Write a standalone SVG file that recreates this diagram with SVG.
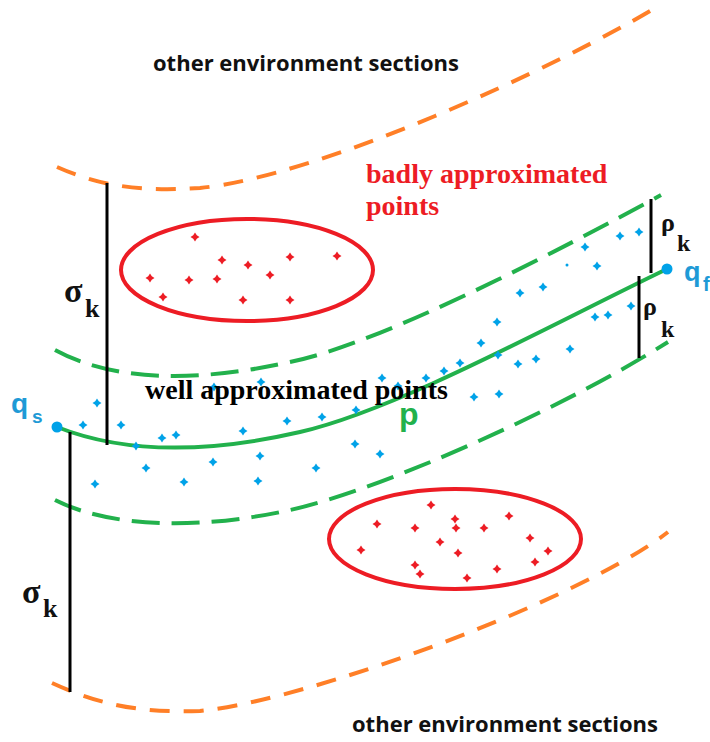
<svg xmlns="http://www.w3.org/2000/svg" width="710" height="742" viewBox="0 0 710 742">
<style>
.orange{fill:none;stroke:#FF7F27;stroke-width:4;stroke-dasharray:20 14}
.gdash{fill:none;stroke:#22B14C;stroke-width:4;stroke-dasharray:28 12}
.gsolid{fill:none;stroke:#22B14C;stroke-width:4}
.bar{stroke:#000;stroke-width:3}
.ell{fill:none;stroke:#ED1C24;stroke-width:4}
.sec{font-family:"Open Sans","Liberation Sans",sans-serif;font-weight:700;font-size:22px;fill:#111}
.ser{font-family:"Liberation Serif","Times New Roman",serif;font-weight:700}
.qlab{font-family:"Liberation Sans",Arial,sans-serif;font-weight:700;fill:#1E9AD6}
</style>
<defs>
<path id="dot" d="M0,-4.5 L1.8,-1.8 L4.5,0 L1.8,1.8 L0,4.5 L-1.8,1.8 L-4.5,0 L-1.8,-1.8Z"/>
</defs>
<rect width="710" height="742" fill="#fff"/>

<g id="boundaries">
<path class="orange" d="M57,167 C100,186 140,192 200,188 C320,176 555,68 655,8"/>
<path class="orange" d="M52,683 C100,705 140,713 200,711 C310,700 580,600 668,532"/>
</g>

<g id="band">
<path class="gdash" d="M55,350 C110,380 190,384 290,362 C380,344 560,250 661,195"/>
<path class="gdash" d="M55,500 C110,528 200,530 290,510 C380,490 560,410 668,342"/>
</g>

<g id="path-p">
<path class="gsolid" d="M57,427 C120,452 200,455 300,432 C400,409 560,320 667,269"/>
</g>

<g id="connectors">
<line class="bar" x1="107" y1="183" x2="107" y2="445"/>
<line class="bar" x1="70" y1="432" x2="70" y2="692"/>
<line class="bar" x1="651" y1="199" x2="651" y2="273"/>
<line class="bar" x1="639" y1="276" x2="639" y2="358"/>
</g>

<g id="bad-top">
<ellipse class="ell" cx="247" cy="270" rx="126" ry="51"/>
<g fill="#ED1C24">
<use href="#dot" x="195" y="237"/><use href="#dot" x="222" y="260"/><use href="#dot" x="248" y="265"/>
<use href="#dot" x="290" y="257"/><use href="#dot" x="337" y="256"/><use href="#dot" x="150" y="278"/>
<use href="#dot" x="189" y="280"/><use href="#dot" x="217" y="279"/><use href="#dot" x="270" y="275"/>
<use href="#dot" x="163" y="297"/><use href="#dot" x="243" y="300"/><use href="#dot" x="290" y="300"/>
</g>
</g>

<g id="bad-bottom">
<ellipse class="ell" cx="455" cy="539" rx="126" ry="50"/>
<g fill="#ED1C24">
<use href="#dot" x="431" y="505"/><use href="#dot" x="455" y="519"/><use href="#dot" x="509" y="516"/>
<use href="#dot" x="377" y="524"/><use href="#dot" x="415" y="528"/><use href="#dot" x="456" y="528"/>
<use href="#dot" x="484" y="528"/><use href="#dot" x="530" y="538"/><use href="#dot" x="440" y="542"/>
<use href="#dot" x="361" y="550"/><use href="#dot" x="458" y="553"/><use href="#dot" x="548" y="551"/>
<use href="#dot" x="535" y="562"/><use href="#dot" x="415" y="565"/><use href="#dot" x="420" y="574"/>
<use href="#dot" x="497" y="569"/><use href="#dot" x="467" y="578"/>
</g>
</g>

<g id="good-points" fill="#00A2E8">
<use href="#dot" x="97" y="403"/><use href="#dot" x="83" y="425"/><use href="#dot" x="121" y="425"/>
<use href="#dot" x="136" y="446"/><use href="#dot" x="162" y="438"/><use href="#dot" x="176" y="435"/>
<use href="#dot" x="214" y="387"/><use href="#dot" x="261" y="382"/><use href="#dot" x="243" y="431"/>
<use href="#dot" x="146" y="468"/><use href="#dot" x="213" y="462"/><use href="#dot" x="260" y="456"/>
<use href="#dot" x="95" y="484"/><use href="#dot" x="184" y="482"/><use href="#dot" x="258" y="481"/>
<use href="#dot" x="287" y="421"/><use href="#dot" x="322" y="417"/><use href="#dot" x="356" y="410"/>
<use href="#dot" x="355" y="444"/><use href="#dot" x="380" y="454"/><use href="#dot" x="316" y="468"/>
<use href="#dot" x="382" y="378"/><use href="#dot" x="398" y="386"/><use href="#dot" x="426" y="378"/>
<use href="#dot" x="444" y="371"/><use href="#dot" x="460" y="363"/><use href="#dot" x="474" y="397"/>
<use href="#dot" x="499" y="394"/><use href="#dot" x="481" y="343"/><use href="#dot" x="498" y="355"/>
<use href="#dot" x="497" y="322"/><use href="#dot" x="518" y="364"/><use href="#dot" x="536" y="359"/>
<use href="#dot" x="570" y="349"/><use href="#dot" x="595" y="317"/><use href="#dot" x="608" y="315"/>
<use href="#dot" x="631" y="306"/><use href="#dot" x="520" y="293"/><use href="#dot" x="543" y="287"/>
<use href="#dot" x="597" y="266"/><use href="#dot" x="585" y="247"/><use href="#dot" x="620" y="236"/>
<use href="#dot" x="639" y="232"/>
<circle cx="567" cy="265" r="1.5"/>
</g>

<g id="qs">
<circle cx="57" cy="427" r="5.5" fill="#00A2E8"/>
<text class="qlab" x="11" y="413" font-size="28">q</text>
<text class="qlab" x="32" y="423" font-size="19">s</text>
</g>
<g id="qf">
<circle cx="667" cy="269" r="5.5" fill="#00A2E8"/>
<text class="qlab" x="684" y="281" font-size="27">q</text>
<text class="qlab" x="703" y="291" font-size="20">f</text>
</g>

<g id="labels">
<text class="sec" x="153" y="71" textLength="306">other environment sections</text>
<text class="sec" x="352" y="732" textLength="306">other environment sections</text>
<text class="ser" x="366" y="183" font-size="28" fill="#ED1C24">badly approximated</text>
<text class="ser" x="366" y="215" font-size="28" fill="#ED1C24">points</text>
<text class="ser" x="145" y="399" font-size="28" fill="#000">well approximated points</text>
<text x="399" y="425" font-family="Liberation Sans,Arial,sans-serif" font-weight="700" font-size="32" fill="#22B14C">p</text>
<text class="ser" x="64" y="302" font-size="34" fill="#111">σ</text>
<text class="ser" x="85" y="317" font-size="26" fill="#111">k</text>
<text class="ser" x="22" y="603" font-size="34" fill="#111">σ</text>
<text class="ser" x="43" y="617" font-size="26" fill="#111">k</text>
<text class="ser" x="661" y="231" font-size="26" fill="#111">ρ</text>
<text class="ser" x="677" y="251" font-size="24" fill="#111">k</text>
<text class="ser" x="643" y="315" font-size="26" fill="#111">ρ</text>
<text class="ser" x="661" y="337" font-size="24" fill="#111">k</text>
</g>
</svg>
